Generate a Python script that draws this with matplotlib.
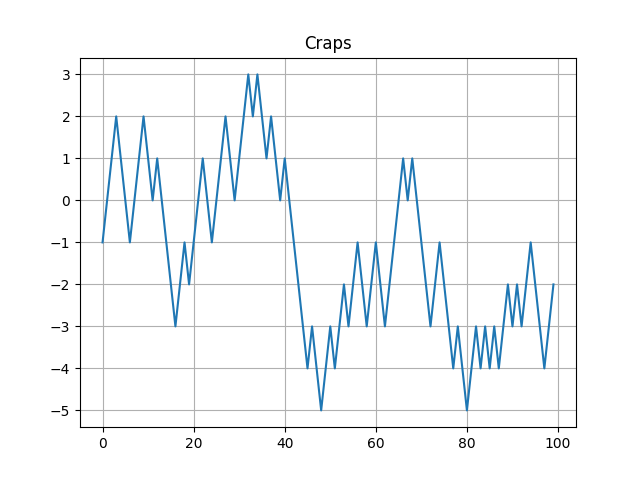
import matplotlib
matplotlib.use("Agg")
import matplotlib.pyplot as plt

# running total of the walk, one value per roll
totals = [-1, 0, 1, 2, 1, 0, -1, 0, 1, 2,
          1, 0, 1, 0, -1, -2, -3, -2, -1, -2,
          -1, 0, 1, 0, -1, 0, 1, 2, 1, 0,
          1, 2, 3, 2, 3, 2, 1, 2, 1, 0,
          1, 0, -1, -2, -3, -4, -3, -4, -5, -4,
          -3, -4, -3, -2, -3, -2, -1, -2, -3, -2,
          -1, -2, -3, -2, -1, 0, 1, 0, 1, 0,
          -1, -2, -3, -2, -1, -2, -3, -4, -3, -4,
          -5, -4, -3, -4, -3, -4, -3, -4, -3, -2,
          -3, -2, -3, -2, -1, -2, -3, -4, -3, -2]
rolls = list(range(len(totals)))

fig, ax = plt.subplots(figsize=(6.4, 4.8), dpi=100)
ax.plot(rolls, totals)
ax.set_title("Craps")
ax.grid(True)

fig.savefig("out.png")
